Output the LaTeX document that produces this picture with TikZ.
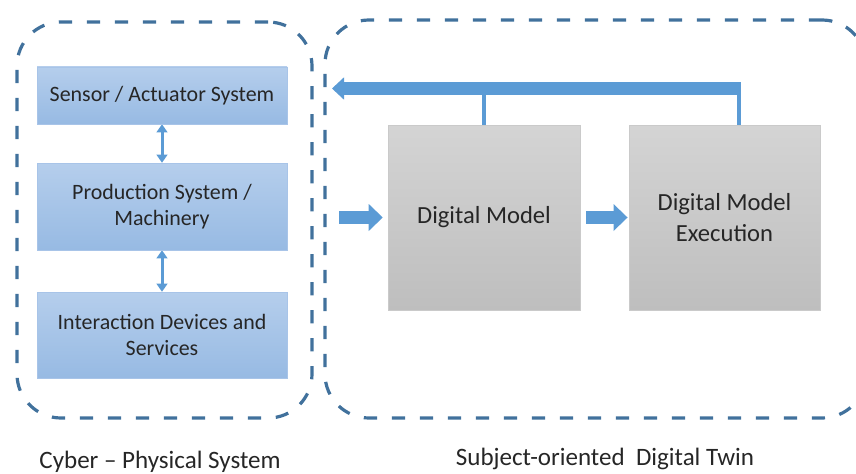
\documentclass[tikz,border=0pt]{standalone}
\usepackage{fontspec}
\setmainfont{Carlito}
\usetikzlibrary{arrows.meta}
\pgfdeclarelayer{nodelayer}
\pgfdeclarelayer{edgelayer}
\pgfsetlayers{edgelayer,nodelayer,main}
\definecolor{frameblue}{HTML}{41719C}
\definecolor{arrowblue}{HTML}{5B9BD5}
\definecolor{cpstop}{HTML}{B5CEEC}
\definecolor{cpsbottom}{HTML}{97BAE3}
\definecolor{cpsline}{HTML}{A8C4E8}
\definecolor{modeltop}{HTML}{D4D4D4}
\definecolor{modelbottom}{HTML}{BEBEBE}
\definecolor{modelline}{HTML}{CACACA}
\definecolor{textgray}{HTML}{262626}
\tikzstyle{group}=[fill=none, draw=frameblue, shape=rectangle, line width=0.08cm, dash pattern=on 0.33cm off 0.37cm, rounded corners=1.1cm]
\tikzstyle{cps box}=[top color=cpstop, bottom color=cpsbottom, draw=cpsline, shape=rectangle, minimum width=6.25cm, align=center, text=textgray, font=\fontsize{15.6}{18}\selectfont]
\tikzstyle{model box}=[top color=modeltop, bottom color=modelbottom, draw=modelline, shape=rectangle, minimum height=4.625cm, align=center, text=textgray, font=\fontsize{17.5}{21.5}\selectfont]
\tikzstyle{caption}=[fill=none, draw=none, anchor=base, text=textgray, font=\fontsize{17.8}{21}\selectfont]
\tikzstyle{link}=[draw=arrowblue, line width=0.075cm, {Triangle[length=0.2cm, width=0.28cm, line width=0pt]}-{Triangle[length=0.2cm, width=0.28cm, line width=0pt]}]
\tikzstyle{flow}=[draw=arrowblue, line width=0.325cm, -{Triangle[length=0.35cm, width=0.675cm, line width=0pt]}]
\tikzstyle{riser}=[draw=arrowblue, line width=0.1cm]

\begin{document}
\begin{tikzpicture}
	\useasboundingbox (0, 0) rectangle (21.4, 11.825);
	\begin{pgfonlayer}{nodelayer}
		\node [style=group, minimum width=7.375cm, minimum height=9.9cm] (0) at (4.1125, 6.325) {};
		\node [style=group, minimum width=13.525cm, minimum height=9.95cm] (1) at (14.8875, 6.35) {};
		\node [style=cps box, minimum height=1.425cm] (2) at (4.05, 9.4375) {Sensor / Actuator System};
		\node [style=cps box, minimum height=2.175cm] (3) at (4.05, 6.6625) {Production System /\\Machinery};
		\node [style=cps box, minimum height=2.15cm] (4) at (4.05, 3.45) {Interaction Devices and\\Services};
		\node [style=model box, minimum width=4.8cm] (5) at (12.1, 6.3875) {Digital Model};
		\node [style=model box, minimum width=4.775cm] (6) at (18.1125, 6.3875) {Digital Model\\Execution};
		\node [style=caption] (7) at (4.0, 0.125) {Cyber -- Physical System};
		\node [style=caption] (8) at (15.125, 0.2) {Subject-oriented\ \ Digital Twin};
		\coordinate (9) at (8.475, 6.3875);
		\coordinate (10) at (18.52, 9.6125);
		\coordinate (11) at (8.3, 9.6125);
		\coordinate (12) at (18.47, 9.6125);
	\end{pgfonlayer}
	\begin{pgfonlayer}{edgelayer}
		\draw [style=link] (2) to (3);
		\draw [style=link] (3) to (4);
		\draw [style=flow, shorten >=0.125cm] (9) to (5);
		\draw [style=flow, shorten <=0.15cm, shorten >=0.03cm] (5) to (6);
		\draw [style=riser] (5.north) to (5.north |- 10);
		\draw [style=riser] (12) to (12 |- 6.north);
		\draw [style=flow, line width=0.3cm, -{Triangle[length=0.3cm, width=0.56cm, line width=0pt]}] (10) to (11);
	\end{pgfonlayer}
\end{tikzpicture}
\end{document}
